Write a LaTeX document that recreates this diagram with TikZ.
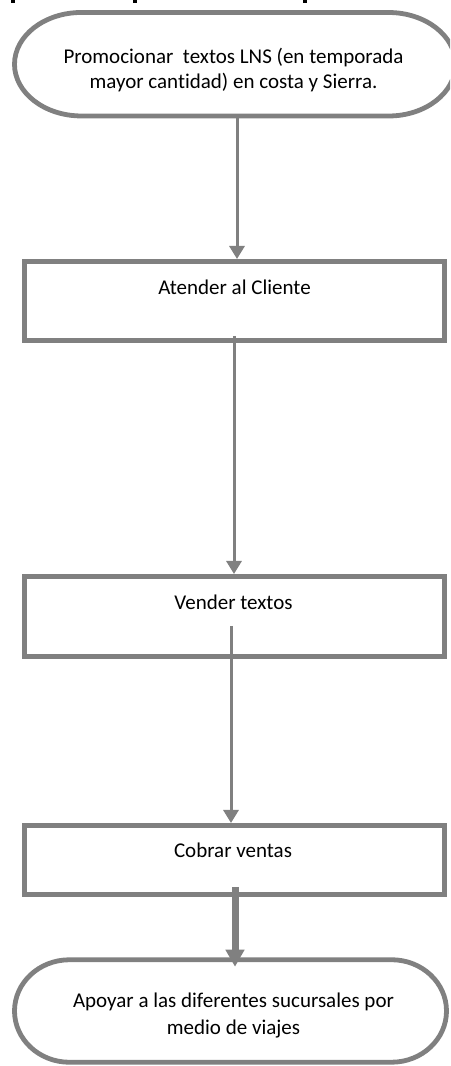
\documentclass[tikz,border=0pt]{standalone}
\usepackage{fontspec}
\setmainfont{Carlito}[Ligatures=NoCommon]
\usetikzlibrary{arrows.meta}
\definecolor{flowgray}{HTML}{808080}
\newcommand{\twolines}[3]{{\fontsize{15.75}{#1}\selectfont\begin{tabular}[t]{@{}c@{}}#2\\#3\end{tabular}}}
\begin{document}
\begin{tikzpicture}[x=0.75pt,y=0.75pt,
  termline/.style={draw=flowgray,line width=3.6pt,fill=white},
  termframe/.style={inner sep=0pt,outer sep=0pt},
  procbox/.style={draw=flowgray,line width=3.75pt,fill=white,minimum width=315pt,inner sep=0pt},
  lbl/.style={font=\fontsize{15.75}{19}\selectfont,anchor=base,inner sep=0pt,outer sep=0pt},
  conn/.style={draw=flowgray,line width=2.25pt,-{Triangle[width=11.25pt,length=9.75pt]}},
  thickconn/.style={draw=flowgray,line width=5.25pt,-{Triangle[width=13.5pt,length=12.75pt]}},
]
\useasboundingbox (0,0) rectangle (450,1066);
\clip (0,0) rectangle (450,1066);
\fill[white] (0,0) rectangle (450,1066);

% fragments of the cut-off title
\fill[black] (11,1062.5) rectangle (14.5,1066);
\fill[black] (133,1062.5) rectangle (136.5,1066);
\fill[black] (303,1062.5) rectangle (306.5,1066);

% top terminator
\node[termframe,minimum width=330.75pt,minimum height=77.6pt] (t1) at (235,1001.75) {};
\draw[termline] ([xshift=50.25pt]t1.north west) -- ([xshift=-50.25pt]t1.north east)
  arc[start angle=90,end angle=-90,x radius=67,y radius=51.75]
  -- ([xshift=50.25pt]t1.south west)
  arc[start angle=270,end angle=90,x radius=67,y radius=51.75] -- cycle;
\node[lbl] (t1t) at (233.5,1002) {\twolines{18.75}{Promocionar\ \ textos LNS (en temporada}{mayor cantidad) en costa y Sierra.}};

% process boxes
\node[procbox,minimum height=59.25pt] (b1) at (234.5,765) {};
\node[lbl] (b1t) at (234.5,771) {Atender al Cliente};
\node[procbox,minimum height=60pt] (b2) at (234.5,449.5) {};
\node[lbl] (b2t) at (233.5,456) {Vender textos};
\node[procbox,minimum height=51.75pt] (b3) at (234.5,206) {};
\node[lbl] (b3t) at (233,208) {Cobrar ventas};

% bottom terminator
\node[termframe,minimum width=324pt,minimum height=76.9pt] (t2) at (230.5,55) {};
\draw[termline] ([xshift=41.25pt]t2.north west) -- ([xshift=-41.25pt]t2.north east)
  arc[start angle=90,end angle=-90,x radius=55,y radius=51.25]
  -- ([xshift=41.25pt]t2.south west)
  arc[start angle=270,end angle=90,x radius=55,y radius=51.25] -- cycle;
\node[lbl] (t2t) at (233.5,58) {\twolines{20.25}{Apoyar a las diferentes sucursales por}{medio de viajes}};

% connectors
\coordinate (c1) at ([xshift=1.5pt]t1.south);
\draw[conn] (c1) -- (c1 |- b1.north);
\coordinate (c2) at (234,730);
\draw[conn] (c2) -- (c2 |- b2.north);
\coordinate (c3) at (231,440);
\draw[conn] (c3) -- (c3 |- b3.north);
\coordinate (c4) at (235,179);
\coordinate (t2in) at ([yshift=-5.25pt]t2.north);
\draw[thickconn] (c4) -- (c4 |- t2in);
\end{tikzpicture}
\end{document}
